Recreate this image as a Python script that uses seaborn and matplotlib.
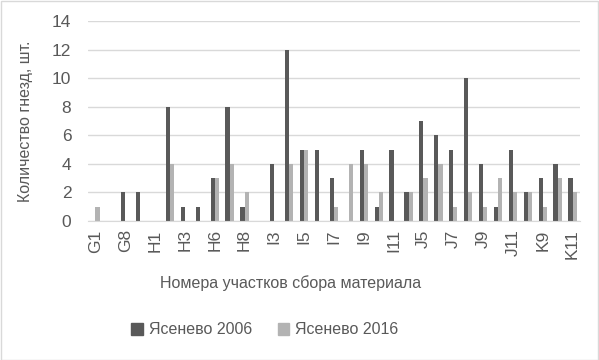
import matplotlib.pyplot as plt
import seaborn as sns
import pandas as pd
from matplotlib.patches import Rectangle

# участки (подписаны через один)
sites = ['G1', 'G7', 'G8', 'G10', 'H1', 'H2', 'H3', 'H5', 'H6', 'H7', 'H8', 'H10',
         'I3', 'I4', 'I5', 'I6', 'I7', 'I8', 'I9', 'I10', 'I11', 'J4', 'J5', 'J6',
         'J7', 'J8', 'J9', 'J10', 'J11', 'K8', 'K9', 'K10', 'K11']
y2006 = [0, 0, 2, 2, 0, 8, 1, 1, 3, 8, 1, 0, 4, 12, 5, 5, 3, 0, 5, 1, 5, 2, 7, 6,
         5, 10, 4, 1, 5, 2, 3, 4, 3]
y2016 = [1, 0, 0, 0, 0, 4, 0, 0, 3, 4, 2, 0, 0, 4, 5, 0, 1, 4, 4, 2, 0, 2, 3, 4,
         1, 2, 1, 3, 2, 2, 1, 3, 2]

df = pd.DataFrame({
    'site': sites * 2,
    'count': y2006 + y2016,
    'year': ['Ясенево 2006'] * len(sites) + ['Ясенево 2016'] * len(sites),
})

sns.set_style('white')
plt.rcParams['font.family'] = ['Liberation Sans', 'DejaVu Sans']
txt = '#595959'

fig = plt.figure(figsize=(5.99, 3.60), dpi=100)
ax = fig.add_axes([88 / 599, 1 - 221 / 360, 492 / 599, 200 / 360])

sns.barplot(data=df, x='site', y='count', hue='year', order=sites,
            palette=['#595959', '#b3b3b3'], width=0.56, linewidth=0,
            saturation=1, ax=ax, legend=False)

ax.set_ylim(0, 14)
ax.set_xlim(-0.5, len(sites) - 0.5)
ax.set_yticks(range(0, 15, 2))
ax.yaxis.grid(True, color='#d9d9d9', linewidth=1)
ax.set_axisbelow(True)
for s in ['top', 'right', 'left']:
    ax.spines[s].set_visible(False)
ax.spines['bottom'].set_color('#d9d9d9')
ax.set_xticks(range(len(sites)))
ax.set_xticklabels([s if i % 2 == 0 else '' for i, s in enumerate(sites)],
                   rotation=90, fontsize=12.5, color=txt)
ax.tick_params(axis='y', labelsize=12.5, labelcolor=txt, length=0, pad=12)
ax.tick_params(axis='x', length=0, pad=6)
ax.set_xlabel('')
ax.set_ylabel('Количество гнезд, шт.', fontsize=11.5, color=txt, labelpad=14)

fig.text(291 / 599, 1 - 283 / 360, 'Номера участков сбора материала',
         ha='center', va='center', fontsize=11.5, color=txt)

handles = [Rectangle((0, 0), 1, 1, color='#595959'),
           Rectangle((0, 0), 1, 1, color='#b3b3b3')]
fig.legend(handles, ['Ясенево 2006', 'Ясенево 2016'], loc='center',
           bbox_to_anchor=(265 / 599, 1 - 330 / 360), ncol=2, frameon=False,
           fontsize=11.5, labelcolor=txt, handlelength=0.7, handleheight=0.7,
           handletextpad=0.4, columnspacing=1.6)

fig.patches.append(Rectangle((0.001, 0.001), 0.997, 0.997, transform=fig.transFigure,
                             fill=False, edgecolor='#d9d9d9', linewidth=1))

fig.savefig('out.png', dpi=100)
